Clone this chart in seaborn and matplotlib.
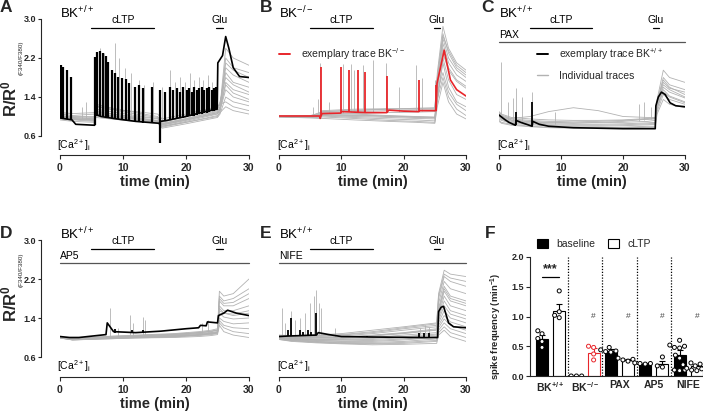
import numpy as np
import pandas as pd
import seaborn as sns
import matplotlib
matplotlib.use("Agg")
import matplotlib.pyplot as plt
from matplotlib.lines import Line2D
from matplotlib.patches import Patch

# ======================= DATA =======================
TIME_TICKS = [0, 10, 20, 30]
TIME_LABELS = ["0", "10", "20", "30"]
RATIO_TICKS = [0.6, 1.4, 2.2, 3.0]
RATIO_LABELS = ["0.6", "1.4", "2.2", "3.0"]

# ---- Panel A (BK+/+) ----
A_main_t = [0, 1.9, 2.5, 5.5, 5.55, 6.5, 9, 12, 15.8, 15.95, 17, 20, 23, 24.95, 25.05, 25.8, 26.3, 26.8, 27.5, 28.5, 30]
A_main_v = [0.97, 0.93, 0.84, 0.82, 1.05, 1.0, 0.95, 0.9, 0.86, 0.9, 0.92, 1.0, 1.1, 1.15, 2.1, 2.25, 2.64, 2.4, 2.0, 1.82, 1.80]
A_spk_t = [0.15, 0.5, 1.05, 1.7,
           5.55, 5.95, 6.35, 6.75, 7.25, 7.65, 8.2, 8.7, 9.25, 9.8, 10.4, 10.95, 11.9, 12.6, 13.2, 14.6,
           15.9,
           16.7, 17.5, 18.0, 18.5, 19.0, 19.6, 20.1, 20.5, 20.9, 21.3, 21.7, 22.1, 22.5, 22.9, 23.3, 23.7, 24.1, 24.4, 24.8]
A_spk_hi = [2.05, 2.02, 1.95, 1.82,
            2.23, 2.33, 2.35, 2.30, 2.24, 2.12, 1.95, 1.90, 1.82, 1.78, 1.76, 1.69, 1.61, 1.65, 1.58, 1.61,
            1.55,
            1.51, 1.61, 1.54, 1.58, 1.51, 1.61, 1.54, 1.58, 1.51, 1.61, 1.55, 1.58, 1.61, 1.54, 1.58, 1.61, 1.55, 1.58, 1.61]
A_spk_lo = [0.97, 0.97, 0.95, 0.92,
            0.82, 1.0, 1.0, 0.99, 0.98, 0.97, 0.96, 0.95, 0.94, 0.93, 0.92, 0.91, 0.89, 0.88, 0.87, 0.86,
            0.45,
            0.92, 0.93, 0.94, 0.95, 0.96, 0.97, 0.99, 1.0, 1.01, 1.02, 1.04, 1.05, 1.06, 1.07, 1.08, 1.1, 1.11, 1.12, 1.14]
A_gray_t = [0, 2, 5.5, 5.7, 8, 12, 15.5, 16.2, 20, 25, 25.4, 26.3, 27.5, 30]
A_gray_v = [
    [1.00, 0.98, 0.95, 1.10, 1.05, 1.00, 0.95, 0.85, 0.95, 1.10, 1.20, 2.40, 2.20, 2.05],
    [0.98, 0.95, 0.92, 1.05, 1.00, 0.95, 0.90, 0.80, 0.90, 1.05, 1.15, 2.20, 2.00, 1.90],
    [1.02, 1.00, 1.00, 1.20, 1.15, 1.05, 0.98, 0.88, 1.00, 1.15, 1.25, 2.00, 1.85, 1.70],
    [0.95, 0.93, 0.90, 1.00, 0.98, 0.92, 0.88, 0.78, 0.88, 1.00, 1.10, 1.90, 1.70, 1.60],
    [1.05, 1.02, 1.05, 1.25, 1.18, 1.08, 1.00, 0.90, 1.02, 1.18, 1.30, 1.80, 1.65, 1.50],
    [0.97, 0.95, 0.94, 1.08, 1.02, 0.96, 0.90, 0.82, 0.92, 1.08, 1.15, 1.70, 1.55, 1.45],
    [1.00, 0.97, 0.96, 1.12, 1.06, 0.98, 0.92, 0.84, 0.94, 1.08, 1.12, 1.55, 1.40, 1.30],
    [0.93, 0.90, 0.88, 0.98, 0.95, 0.90, 0.86, 0.76, 0.85, 0.98, 1.05, 1.40, 1.30, 1.22],
    [1.08, 1.06, 1.08, 1.22, 1.15, 1.10, 1.05, 0.95, 1.05, 1.20, 1.25, 1.30, 1.20, 1.12],
    [0.96, 0.94, 0.92, 1.04, 1.00, 0.94, 0.88, 0.80, 0.88, 1.02, 1.08, 1.20, 1.12, 1.05],
    [1.01, 0.99, 0.98, 1.15, 1.10, 1.02, 0.96, 0.86, 0.96, 1.12, 1.18, 2.10, 1.95, 1.80],
    [0.99, 0.96, 0.93, 1.06, 1.02, 0.97, 0.91, 0.83, 0.93, 1.06, 1.14, 1.65, 1.48, 1.35],
]
A_gspk_t = [0.3, 0.9, 3.5, 4.2, 5.8, 6.3, 7.0, 8.8, 9.3, 10.3, 11.3, 12.5, 13.3, 14.8, 16.2, 17.5, 18.3, 19.0, 19.8, 20.6, 21.3, 22.0, 22.7, 23.5, 24.2]
A_gspk_hi = [1.9, 1.7, 1.2, 1.3, 2.3, 2.4, 2.3, 2.5, 2.2, 2.0, 1.9, 1.75, 1.65, 1.7, 1.6, 1.95, 1.7, 1.8, 1.7, 1.9, 1.75, 1.8, 1.75, 1.85, 1.7]
A_gspk_lo = [1.0, 0.98, 0.95, 0.95, 1.05, 1.05, 1.02, 1.0, 1.0, 0.98, 0.97, 0.95, 0.94, 0.92, 0.9, 0.92, 0.95, 0.97, 0.98, 1.0, 1.02, 1.04, 1.06, 1.08, 1.1]

# ---- Panel B (BK-/-) ----
B_main_t = [0, 6.5, 6.6, 6.9, 9.9, 10.1, 13.9, 17.3, 17.6, 20, 22.4, 22.6, 25.2, 25.35, 25.9, 26.5, 27.0, 27.5, 28.5, 30]
B_main_v = [1.01, 1.01, 0.96, 1.06, 1.07, 1.10, 1.08, 1.08, 1.13, 1.11, 1.10, 1.12, 1.12, 1.68, 2.0, 2.36, 2.05, 1.75, 1.55, 1.42]
B_spk_t = [6.7, 10.0, 11.2, 12.6, 13.85, 17.4, 22.45, 25.15]
B_spk_hi = [2.02, 2.02, 1.95, 1.95, 1.92, 1.83, 1.75, 1.65]
B_spk_lo = [1.0, 1.07, 1.1, 1.1, 1.09, 1.08, 1.10, 1.12]
B_gray_t = [0, 5, 6.5, 7, 12, 17.5, 22, 25, 25.4, 26.3, 27.2, 28.5, 30]
B_gray_v = [
    [1.00, 1.00, 1.05, 1.10, 1.12, 1.15, 1.17, 1.18, 1.90, 2.85, 2.40, 2.10, 1.95],
    [1.00, 1.01, 1.08, 1.12, 1.15, 1.16, 1.15, 1.15, 1.80, 2.70, 2.30, 2.00, 1.85],
    [1.01, 1.00, 1.02, 1.05, 1.06, 1.08, 1.09, 1.10, 1.70, 2.60, 2.20, 1.95, 1.80],
    [0.99, 0.98, 1.00, 1.02, 1.00, 0.98, 0.96, 0.95, 1.50, 2.40, 2.00, 1.75, 1.62],
    [1.00, 0.99, 1.03, 1.06, 1.05, 1.02, 1.00, 0.99, 1.60, 2.50, 2.10, 1.85, 1.72],
    [1.01, 1.01, 1.04, 1.08, 1.10, 1.12, 1.13, 1.12, 1.70, 2.30, 1.95, 1.72, 1.58],
    [0.99, 0.98, 0.98, 0.99, 0.96, 0.92, 0.90, 0.88, 1.30, 2.20, 1.75, 1.45, 1.35],
    [1.00, 0.99, 1.01, 1.03, 1.02, 1.00, 0.98, 0.97, 1.40, 2.10, 1.60, 1.30, 1.20],
    [1.00, 1.00, 1.02, 1.04, 1.03, 1.01, 0.99, 0.98, 1.50, 1.90, 1.50, 1.25, 1.12],
    [0.99, 0.97, 0.96, 0.96, 0.93, 0.90, 0.88, 0.86, 1.20, 1.70, 1.30, 1.05, 0.95],
    [1.01, 1.02, 1.06, 1.10, 1.13, 1.15, 1.16, 1.16, 1.80, 2.65, 2.35, 2.05, 1.90],
    [1.00, 0.99, 1.00, 1.01, 0.98, 0.95, 0.93, 0.91, 1.35, 1.80, 1.40, 1.15, 1.02],
]
B_gspk_t = [5.5, 6.3, 6.6, 8.0, 10.2, 11.6, 12.0, 13.4, 15.1, 17.2, 19.3, 22.0, 22.9, 25.0]
B_gspk_hi = [1.2, 1.35, 2.1, 1.3, 2.08, 2.08, 1.95, 2.05, 2.16, 2.1, 1.61, 2.06, 1.78, 1.75]
B_gspk_lo = [1.0, 1.05, 1.05, 1.08, 1.08, 1.1, 1.1, 1.1, 1.1, 1.1, 1.1, 1.12, 1.12, 1.15]

# ---- Panel C (BK+/+, PAX) ----
C_main_t = [0, 0.8, 1.6, 2.65, 2.75, 3.5, 5.35, 5.45, 6.5, 8, 12, 20, 25.2, 25.3, 25.7, 26.2, 26.8, 27.6, 28.5, 30]
C_main_v = [1.03, 0.95, 0.88, 0.82, 0.92, 0.88, 0.80, 0.90, 0.84, 0.80, 0.77, 0.75, 0.75, 1.22, 1.40, 1.50, 1.45, 1.28, 1.22, 1.20]
C_spk_t = [2.7, 5.4]
C_spk_hi = [1.1, 1.3]
C_spk_lo = [0.82, 0.80]
C_gray_t = [0, 0.4, 2, 5, 8, 12, 16, 20, 24, 25.2, 25.5, 26.5, 27.5, 30]
C_gray_v = [
    [1.10, 1.05, 0.98, 0.95, 0.93, 0.92, 0.92, 0.93, 0.96, 0.98, 1.30, 1.75, 1.60, 1.45],
    [1.05, 1.00, 0.93, 0.90, 0.88, 0.87, 0.87, 0.88, 0.90, 0.92, 1.25, 1.65, 1.55, 1.40],
    [1.00, 0.96, 0.90, 0.87, 0.85, 0.84, 0.84, 0.85, 0.87, 0.88, 1.20, 1.60, 1.50, 1.38],
    [0.95, 0.92, 0.86, 0.83, 0.81, 0.80, 0.80, 0.81, 0.83, 0.84, 1.15, 1.55, 1.42, 1.30],
    [1.08, 1.03, 0.96, 1.00, 1.10, 1.18, 1.12, 1.00, 0.98, 0.97, 1.35, 1.95, 1.80, 1.70],
    [0.92, 0.88, 0.84, 0.80, 0.78, 0.77, 0.77, 0.78, 0.80, 0.80, 1.10, 1.45, 1.35, 1.25],
    [1.02, 0.98, 0.92, 0.89, 0.87, 0.86, 0.88, 0.90, 0.95, 0.96, 1.30, 1.80, 1.65, 1.55],
    [0.98, 0.94, 0.88, 0.85, 0.83, 0.82, 0.82, 0.83, 0.85, 0.86, 1.20, 1.50, 1.40, 1.28],
    [1.06, 1.01, 0.95, 0.92, 0.90, 0.89, 0.90, 0.92, 0.94, 0.95, 1.30, 1.70, 1.58, 1.50],
    [0.90, 0.86, 0.82, 0.79, 0.77, 0.76, 0.76, 0.77, 0.78, 0.78, 1.05, 1.35, 1.25, 1.18],
]
C_gspk_t = [0.3, 1.5, 2.3, 2.7, 3.7, 5.4, 9.0, 22.5, 23.4, 24.5]
C_gspk_hi = [2.12, 1.3, 1.38, 1.58, 1.41, 1.51, 1.1, 1.25, 1.3, 1.2]
C_gspk_lo = [1.05, 0.95, 0.9, 0.85, 0.88, 0.85, 0.85, 0.9, 0.92, 0.95]

# ---- Panel D (BK+/+, AP5) ----
D_main_t = [0, 1.5, 3, 7.3, 7.5, 8.5, 12, 16, 20, 22, 22.3, 23.2, 23.4, 25.0, 25.15, 26.0, 26.6, 28, 30]
D_main_v = [1.02, 1.0, 1.0, 1.06, 1.3, 1.12, 1.1, 1.13, 1.18, 1.2, 1.25, 1.24, 1.32, 1.3, 1.45, 1.5, 1.56, 1.5, 1.45]
D_spk_t = [8.7, 11.4, 13.2]
D_spk_hi = [1.17, 1.16, 1.16]
D_spk_lo = [1.1, 1.1, 1.1]
D_gray_t = [0, 2, 7, 12, 18, 22, 24, 25.0, 25.3, 26, 27.5, 30]
D_gray_v = [
    [1.00, 0.97, 1.02, 1.05, 1.08, 1.12, 1.15, 1.18, 1.95, 1.85, 1.90, 2.20],
    [1.00, 0.96, 1.00, 1.03, 1.06, 1.10, 1.12, 1.15, 1.85, 1.75, 1.80, 2.00],
    [1.01, 0.98, 1.02, 1.04, 1.07, 1.10, 1.13, 1.15, 1.75, 1.65, 1.65, 1.80],
    [0.99, 0.95, 0.98, 1.00, 1.02, 1.05, 1.08, 1.10, 1.65, 1.55, 1.55, 1.65],
    [1.00, 0.97, 1.00, 1.02, 1.04, 1.08, 1.10, 1.12, 1.55, 1.50, 1.45, 1.50],
    [1.00, 0.96, 0.99, 1.01, 1.03, 1.06, 1.09, 1.10, 1.50, 1.42, 1.38, 1.40],
    [0.99, 0.95, 0.97, 0.99, 1.01, 1.04, 1.06, 1.08, 1.40, 1.33, 1.28, 1.30],
    [1.00, 0.96, 0.98, 1.00, 1.02, 1.05, 1.07, 1.09, 1.35, 1.25, 1.20, 1.18],
    [1.01, 0.97, 0.99, 1.01, 1.03, 1.06, 1.08, 1.10, 1.30, 1.20, 1.12, 1.08],
    [0.99, 0.95, 0.97, 0.99, 1.00, 1.02, 1.04, 1.06, 1.25, 1.12, 1.05, 1.00],
    [1.00, 0.97, 1.00, 1.03, 1.06, 1.10, 1.13, 1.16, 1.80, 1.70, 1.72, 1.90],
    [1.00, 0.96, 0.99, 1.02, 1.05, 1.08, 1.10, 1.12, 1.60, 1.50, 1.48, 1.55],
]
D_gspk_t = [7.9, 9.2, 11.1, 11.6, 13.2, 13.5, 22.5, 23.5]
D_gspk_hi = [1.6, 1.2, 1.46, 1.3, 1.42, 1.35, 1.3, 1.35]
D_gspk_lo = [1.02, 1.03, 1.03, 1.03, 1.04, 1.04, 1.1, 1.12]

# ---- Panel E (BK+/+, NIFE) ----
E_main_t = [0, 1.4, 6.0, 6.3, 8, 10, 15, 22.3, 25.45, 25.6, 26.0, 26.4, 27.2, 28, 30]
E_main_v = [1.02, 1.03, 1.05, 1.10, 1.06, 1.02, 1.01, 1.0, 1.0, 1.53, 1.62, 1.64, 1.3, 1.22, 1.20]
E_spk_t = [1.5, 2.0, 3.3, 3.9, 4.7, 5.2, 5.9, 14.1, 22.5, 23.3, 24.0]
E_spk_hi = [1.15, 1.39, 1.15, 1.12, 1.15, 1.12, 1.5, 1.04, 1.09, 1.1, 1.1]
E_spk_lo = [1.03, 1.03, 1.04, 1.04, 1.04, 1.05, 1.05, 1.01, 1.0, 1.0, 1.0]
E_gray_t = [0, 2, 6, 10, 15, 20, 25.3, 25.6, 26.5, 27.5, 30]
E_gray_v = [
    [1.05, 1.04, 1.05, 1.08, 1.15, 1.22, 1.30, 1.90, 2.38, 2.30, 2.25],
    [1.03, 1.02, 1.03, 1.05, 1.10, 1.18, 1.25, 1.80, 2.25, 2.15, 2.05],
    [1.02, 1.01, 1.02, 1.03, 1.08, 1.15, 1.22, 1.70, 2.15, 2.00, 1.90],
    [1.01, 1.00, 1.00, 1.01, 1.05, 1.10, 1.18, 1.60, 2.05, 1.85, 1.75],
    [1.00, 0.99, 0.99, 1.00, 1.03, 1.08, 1.15, 1.50, 1.95, 1.75, 1.65],
    [1.00, 0.98, 0.97, 0.98, 1.00, 1.05, 1.10, 1.45, 1.85, 1.65, 1.55],
    [0.99, 0.97, 0.96, 0.96, 0.98, 1.02, 1.07, 1.40, 1.75, 1.55, 1.45],
    [0.99, 0.97, 0.95, 0.95, 0.96, 1.00, 1.05, 1.35, 1.65, 1.48, 1.38],
    [0.98, 0.96, 0.94, 0.93, 0.94, 0.97, 1.02, 1.30, 1.55, 1.40, 1.30],
    [0.98, 0.95, 0.93, 0.92, 0.92, 0.95, 1.00, 1.25, 1.45, 1.32, 1.22],
    [0.97, 0.94, 0.92, 0.90, 0.90, 0.92, 0.97, 1.20, 1.38, 1.25, 1.15],
    [0.97, 0.94, 0.91, 0.89, 0.88, 0.90, 0.94, 1.15, 1.30, 1.18, 1.08],
    [0.96, 0.93, 0.90, 0.88, 0.87, 0.88, 0.92, 1.10, 1.22, 1.10, 1.00],
    [0.96, 0.92, 0.89, 0.87, 0.85, 0.86, 0.88, 1.05, 1.15, 1.02, 0.92],
    [1.04, 1.03, 1.04, 1.06, 1.12, 1.20, 1.28, 1.85, 2.30, 2.22, 2.15],
    [1.01, 0.99, 0.99, 1.00, 1.04, 1.09, 1.16, 1.55, 2.00, 1.80, 1.70],
]
E_gspk_t = [0.5, 1.0, 2.0, 2.6, 3.4, 4.2, 4.9, 5.6, 5.9, 6.4, 6.8, 9.0, 22.6, 23.4, 24.1]
E_gspk_hi = [1.6, 1.3, 1.55, 1.35, 1.4, 1.5, 1.7, 1.85, 1.97, 1.7, 1.6, 1.2, 1.2, 1.25, 1.22]
E_gspk_lo = [1.0, 1.0, 1.0, 1.0, 1.02, 1.02, 1.02, 1.03, 1.03, 1.05, 1.05, 1.02, 1.05, 1.05, 1.06]

# ---- Panel F (spike frequency) ----
F_groups = ["BK$^{+/+}$", "BK$^{-/-}$", "PAX", "AP5", "NIFE"]
F_conds = ["baseline", "cLTP"]
F_base_mean = [0.62, 0.0, 0.42, 0.21, 0.35]
F_ltp_mean = [1.10, 0.39, 0.27, 0.20, 0.16]
F_base_sem = [0.07, 0.0, 0.03, 0.01, 0.08]
F_ltp_sem = [0.11, 0.08, 0.015, 0.05, 0.02]
F_base_dots = [[0.76, 0.71, 0.63, 0.58, 0.48], [0.0, 0.0, 0.0], [0.48, 0.44, 0.42, 0.41, 0.40],
               [0.22, 0.21, 0.21, 0.20], [0.60, 0.52, 0.50, 0.48, 0.47, 0.35, 0.30, 0.10, 0.10, 0.09]]
F_ltp_dots = [[1.43, 1.08, 1.02, 0.98], [0.50, 0.48, 0.37, 0.27], [0.30, 0.28, 0.27, 0.25],
              [0.32, 0.17, 0.15], [0.22, 0.20, 0.19, 0.17, 0.15, 0.13, 0.12, 0.10, 0.09]]

# ======================= STYLE =======================
sns.set_theme(style="ticks")
plt.rcParams["font.family"] = ["Liberation Sans", "DejaVu Sans"]
plt.rcParams["mathtext.fontset"] = "custom"
plt.rcParams["mathtext.rm"] = "Liberation Sans"
plt.rcParams["mathtext.bf"] = "Liberation Sans:bold"
plt.rcParams["mathtext.it"] = "Liberation Sans:italic"
plt.rcParams["mathtext.default"] = "regular"
plt.rcParams["axes.linewidth"] = 0.8
plt.rcParams["xtick.major.width"] = 0.8
plt.rcParams["ytick.major.width"] = 0.8

GRAY = "#b2b2b2"
RED = "#e8262b"
W, H = 703.0, 412.0

fig = plt.figure(figsize=(7.03, 4.12), dpi=100)


def px_axes(x0, ytop, x1, ybot):
    return fig.add_axes([x0 / W, 1 - ybot / H, (x1 - x0) / W, (ybot - ytop) / H])


def draw_traces(ax, g_t, g_v, gs_t, gs_lo, gs_hi, m_t, m_v, ms_t, ms_lo, ms_hi, color, spk_lw=1.3):
    rows = [(k, t, v) for k, vals in enumerate(g_v) for t, v in zip(g_t, vals)]
    gdf = pd.DataFrame(rows, columns=["trace", "t", "v"])
    sns.lineplot(data=gdf, x="t", y="v", units="trace", estimator=None, color=GRAY,
                 lw=0.6, sort=False, ax=ax, legend=False)
    ax.vlines(gs_t, gs_lo, gs_hi, color=GRAY, lw=0.6)
    mdf = pd.DataFrame({"t": m_t, "v": m_v})
    sns.lineplot(data=mdf, x="t", y="v", estimator=None, color=color, lw=1.2,
                 sort=False, ax=ax, legend=False)
    ax.vlines(ms_t, ms_lo, ms_hi, color=color, lw=spk_lw)


def style_axes(ax, ylow, show_y):
    ax.set_xlim(0, 30)
    ax.set_ylim(ylow, 3.0)
    sns.despine(ax=ax, left=not show_y)
    ax.spines["bottom"].set_bounds(0, 30)
    ax.set_xticks(TIME_TICKS)
    ax.set_xticklabels(TIME_LABELS, fontweight="bold")
    ax.tick_params(axis="x", length=3, pad=2.5, labelsize=7.5)
    ax.set_xlabel("time (min)", fontsize=10.5, fontweight="bold", labelpad=2)
    ax.set_ylabel("")
    if show_y:
        ax.spines["left"].set_position(("outward", 13.7))
        ax.spines["left"].set_bounds(0.6, 3.0)
        ax.set_yticks(RATIO_TICKS)
        ax.set_yticklabels(RATIO_LABELS, fontweight="bold")
        ax.tick_params(axis="y", length=2.5, pad=1.0, labelsize=6.5)
    else:
        ax.set_yticks([])


def annotate(ax, geno, drug=None):
    kw = dict(clip_on=False, color="black")
    ax.text(0, 3.13, geno, fontsize=9.5, ha="left", va="center", **kw)
    ax.plot([5, 15], [2.82, 2.82], lw=0.9, **kw)
    ax.text(10, 2.985, "cLTP", fontsize=7.5, ha="center", va="center", **kw)
    ax.plot([24.8, 25.8], [2.82, 2.82], lw=0.9, **kw)
    ax.text(25.3, 2.985, "Glu", fontsize=7.5, ha="center", va="center", **kw)
    if drug:
        ax.text(0, 2.665, drug, fontsize=7.5, ha="left", va="center", **kw)
        ax.plot([0, 30], [2.52, 2.52], lw=0.9, clip_on=False, color="#555555")
    ax.text(-0.4, 0.41, "[Ca$^{2+}$]$_{i}$", fontsize=7.5, ha="left", va="center", **kw)


axA = px_axes(60, 19, 249, 155)
axB = px_axes(279, 19, 466, 155)
axC = px_axes(499, 19, 685, 155)
axD = px_axes(60, 240, 249, 377)
axE = px_axes(279, 240, 466, 377)
axF = px_axes(530, 257, 703, 376)

draw_traces(axA, A_gray_t, A_gray_v, A_gspk_t, A_gspk_lo, A_gspk_hi,
            A_main_t, A_main_v, A_spk_t, A_spk_lo, A_spk_hi, "black", spk_lw=1.6)
draw_traces(axB, B_gray_t, B_gray_v, B_gspk_t, B_gspk_lo, B_gspk_hi,
            B_main_t, B_main_v, B_spk_t, B_spk_lo, B_spk_hi, RED)
draw_traces(axC, C_gray_t, C_gray_v, C_gspk_t, C_gspk_lo, C_gspk_hi,
            C_main_t, C_main_v, C_spk_t, C_spk_lo, C_spk_hi, "black")
draw_traces(axD, D_gray_t, D_gray_v, D_gspk_t, D_gspk_lo, D_gspk_hi,
            D_main_t, D_main_v, D_spk_t, D_spk_lo, D_spk_hi, "black")
draw_traces(axE, E_gray_t, E_gray_v, E_gspk_t, E_gspk_lo, E_gspk_hi,
            E_main_t, E_main_v, E_spk_t, E_spk_lo, E_spk_hi, "black")

style_axes(axA, 0.21, True)
style_axes(axB, 0.21, False)
style_axes(axC, 0.21, False)
style_axes(axD, 0.19, True)
style_axes(axE, 0.19, False)

annotate(axA, "BK$^{+/+}$")
annotate(axB, "BK$^{-/-}$")
annotate(axC, "BK$^{+/+}$", "PAX")
annotate(axD, "BK$^{+/+}$", "AP5")
annotate(axE, "BK$^{+/+}$", "NIFE")

leg_kw = dict(frameon=False, fontsize=7.5, handlelength=1.1, handletextpad=1.0,
              labelspacing=0.85, borderpad=0, borderaxespad=0, loc="upper left")
axB.legend(handles=[Line2D([], [], color=RED, lw=1.4)],
           labels=["exemplary trace BK$^{-/-}$"], bbox_to_anchor=(0.0, 0.80), **leg_kw)
axC.legend(handles=[Line2D([], [], color="black", lw=1.4), Line2D([], [], color=GRAY, lw=1.0)],
           labels=["exemplary trace BK$^{+/+}$", "Individual traces"],
           bbox_to_anchor=(0.204, 0.80), **leg_kw)

# y-axis labels for trace rows (main label + small subscript, left of the tick labels)
for yc_main, yc_sub in [(99, 58), (304, 270)]:
    fig.text(9.5 / W, 1 - yc_main / H, "R/R$^{0}$", rotation=90, fontsize=12,
             fontweight="bold", ha="center", va="center")
    fig.text(21.5 / W, 1 - yc_sub / H, "(F340/F380)", rotation=90, fontsize=4.5,
             ha="center", va="center")

# ---------------- Panel F ----------------
bar_df = pd.DataFrame({
    "group": F_groups * 2,
    "cond": ["baseline"] * 5 + ["cLTP"] * 5,
    "freq": F_base_mean + F_ltp_mean,
})
sns.barplot(data=bar_df, x="group", y="freq", hue="cond", order=F_groups, hue_order=F_conds,
            palette={"baseline": "black", "cLTP": "white"}, saturation=1, edgecolor="black",
            linewidth=0.8, width=1.0, gap=0.3, errorbar=None, legend=False, ax=axF)

sems = {"baseline": F_base_sem, "cLTP": F_ltp_sem}
for p in list(axF.patches):
    cx = p.get_x() + p.get_width() / 2
    gi = int(round(cx))
    cond = "baseline" if cx < gi else "cLTP"
    edge = "black"
    if gi == 1 and cond == "cLTP":
        edge = RED
        p.set_edgecolor(RED)
    s = sems[cond][gi]
    if s > 0:
        axF.errorbar(cx, p.get_height(), yerr=[[0], [s]], fmt="none", ecolor=edge,
                     elinewidth=0.8, capsize=2.3, capthick=0.8, zorder=3)

dot_rows = []
for gi, g in enumerate(F_groups):
    for v in F_base_dots[gi]:
        dot_rows.append((g, "baseline", v))
    for v in F_ltp_dots[gi]:
        dot_rows.append((g, "cLTP", v))
dot_df = pd.DataFrame(dot_rows, columns=["group", "cond", "freq"])
n_before = len(axF.collections)
sns.swarmplot(data=dot_df, x="group", y="freq", hue="cond", order=F_groups, hue_order=F_conds,
              dodge=True, palette={"baseline": "white", "cLTP": "white"}, edgecolor="black",
              linewidth=0.7, size=2.9, legend=False, ax=axF, zorder=4)
swarm_cols = axF.collections[n_before:]
for c in swarm_cols:
    off = c.get_offsets()
    if len(off) and abs(np.mean(off[:, 0]) - 1.2) < 0.1:
        c.set_edgecolor(RED)

axF.set_xlim(-0.6, 4.43)
axF.set_ylim(0, 2.0)
sns.despine(ax=axF)
axF.spines["left"].set_bounds(0, 2.0)
axF.set_yticks([0, 0.5, 1.0, 1.5, 2.0])
axF.set_yticklabels(["0.0", "0.5", "1.0", "1.5", "2.0"], fontweight="bold")
axF.tick_params(axis="y", length=3, pad=1.5, labelsize=6.5)
axF.set_xticks(range(len(F_groups)))
axF.set_xticklabels(F_groups, fontweight="bold")
axF.tick_params(axis="x", length=0, pad=3, labelsize=7.5)
axF.set_xlabel("")
axF.set_ylabel("spike frequency (min$^{-1}$)", fontsize=6.8, fontweight="bold")
axF.yaxis.set_label_coords(-0.15, 0.42)

for xs in [0.5, 1.5, 2.5, 3.5]:
    axF.plot([xs, xs], [0, 2.0], color="black", lw=0.9, ls=(0, (1, 1.3)), clip_on=False)
axF.plot([-0.25, 0.25], [1.66, 1.66], color="black", lw=0.9)
axF.text(0, 1.8, "***", fontsize=9, fontweight="bold", ha="center", va="center")
for gi in range(1, 5):
    axF.text(gi + 0.25, 1.0, "#", fontsize=6, color="#444444", ha="center", va="center")

axF.legend(handles=[Patch(facecolor="black", edgecolor="black", lw=0.8),
                    Patch(facecolor="white", edgecolor="black", lw=0.8)],
           labels=F_conds, ncol=2, frameon=False, fontsize=7.5, handlelength=1.05,
           handleheight=0.9, handletextpad=0.85, columnspacing=1.15, borderpad=0,
           borderaxespad=0, loc="upper left", bbox_to_anchor=(0.04, 1.15))

# panel letters
for letter, x, y in [("A", 0, 8), ("B", 260, 8), ("C", 481, 8),
                     ("D", 0, 233), ("E", 260, 233), ("F", 485, 233)]:
    fig.text(x / W, 1 - y / H, letter, fontsize=12.5, fontweight="bold", ha="left", va="center")

# swarm: compute beeswarm layout, then spread dodge offsets to match bar centres
fig.canvas.draw()
for c in swarm_cols:
    if "draw" in c.__dict__:
        del c.__dict__["draw"]
    off = np.array(c.get_offsets(), dtype=float)
    if len(off):
        gi = np.round(np.mean(off[:, 0]))
        sign = -1.0 if np.mean(off[:, 0]) < gi else 1.0
        off[:, 0] = off[:, 0] + sign * 0.05
        c.set_offsets(off)

fig.savefig("out.png", dpi=100)
